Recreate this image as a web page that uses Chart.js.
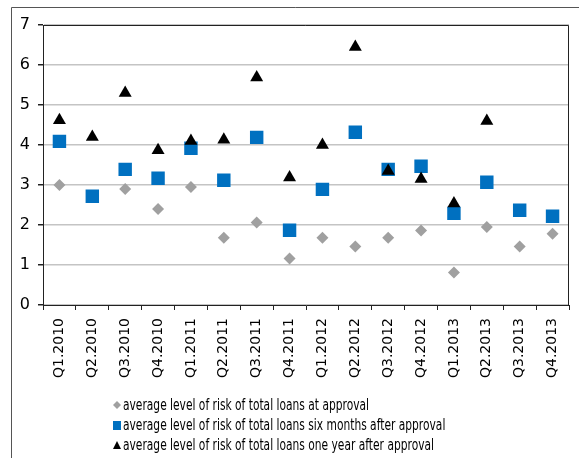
<!DOCTYPE html>
<html>
<head>
<meta charset="utf-8">
<script src="https://cdn.jsdelivr.net/npm/chart.js@4"></script>
<style>
  html, body { margin: 0; padding: 0; background: #fff; }
  #wrap { width: 579px; height: 458px; }
</style>
</head>
<body>
<div id="wrap"><canvas id="riskChart" width="579" height="458"></canvas></div>
<script>
// quarters on the x axis
const quarters = ["Q1.2010", "Q2.2010", "Q3.2010", "Q4.2010", "Q1.2011", "Q2.2011", "Q3.2011", "Q4.2011",
    "Q1.2012", "Q2.2012", "Q3.2012", "Q4.2012", "Q1.2013", "Q2.2013", "Q3.2013", "Q4.2013"];

// average level of risk
const atApproval = [3.0, null, 2.9, 2.4, 2.95, 1.68, 2.06, 1.16, 1.68, 1.46, 1.68, 1.86, 0.81, 1.95, 1.46, 1.78];
const sixMonths = [4.09, 2.72, 3.39, 3.17, 3.92, 3.12, 4.19, 1.87, 2.89, 4.32, 3.39, 3.47, 2.29, 3.07, 2.37, 2.22];
const oneYear = [4.62, 4.2, 5.3, 3.87, 4.1, 4.13, 5.69, 3.19, 4.0, 6.45, 3.35, 3.15, 2.54, 4.6, null, null];

const seriesNames = [
    "average level of risk of total loans at approval",
    "average level of risk of total loans six months after approval",
    "average level of risk of total loans one year after approval"
];

const yTicks = [0, 1, 2, 3, 4, 5, 6, 7];

// ===== frame, plot border and legend =====
const framePlugin = {
    id: "frame",
    afterDraw(chart) {
        const ctx = chart.ctx;
        const a = chart.chartArea;
        ctx.save();
        // outer frame
        ctx.strokeStyle = "#555";
        ctx.lineWidth = 1;
        ctx.beginPath();
        ctx.moveTo(11.5, 470);
        ctx.lineTo(11.5, 7.5);
        ctx.lineTo(600, 7.5);
        ctx.stroke();
        // plot border top + right
        ctx.strokeStyle = "#222";
        ctx.beginPath();
        ctx.moveTo(a.left, a.top + 0.5);
        ctx.lineTo(a.right - 0.5, a.top + 0.5);
        ctx.lineTo(a.right - 0.5, a.bottom);
        ctx.stroke();

        // legend
        const metas = chart.data.datasets;
        ctx.font = "15px 'DejaVu Sans'";
        const sx = 246 / ctx.measureText(seriesNames[0]).width;
        const rows = [405, 425, 445];
        metas.forEach((ds, i) => {
            const y = rows[ds.legendRow];
            const x = 117;
            ctx.fillStyle = ds.backgroundColor;
            ctx.beginPath();
            if (ds.pointStyle === "rectRot") {
                ctx.moveTo(x, y - 4); ctx.lineTo(x + 4, y); ctx.lineTo(x, y + 4); ctx.lineTo(x - 4, y);
            } else if (ds.pointStyle === "rect") {
                ctx.rect(x - 4, y - 4, 8, 9);
            } else {
                ctx.moveTo(x, y - 4); ctx.lineTo(x + 4, y + 4); ctx.lineTo(x - 4, y + 4);
            }
            ctx.closePath();
            ctx.fill();
            ctx.save();
            ctx.translate(123, y);
            ctx.scale(sx, 1);
            ctx.fillStyle = "#000";
            ctx.textBaseline = "middle";
            ctx.fillText(seriesNames[ds.legendRow], 0, 1);
            ctx.restore();
        });
        ctx.restore();
    }
};

new Chart(document.getElementById("riskChart"), {
    type: "line",
    data: {
        labels: quarters,
        datasets: [
            {
                label: seriesNames[2],
                data: oneYear,
                showLine: false,
                pointStyle: "triangle",
                pointRadius: 7.5,
                backgroundColor: "#000000",
                borderColor: "#000000",
                borderWidth: 0,
                order: 0,
                legendRow: 2
            },
            {
                label: seriesNames[1],
                data: sixMonths,
                showLine: false,
                pointStyle: "rect",
                pointRadius: 9.5,
                backgroundColor: "#0070C0",
                borderColor: "#0070C0",
                borderWidth: 0,
                order: 1,
                legendRow: 1
            },
            {
                label: seriesNames[0],
                data: atApproval,
                showLine: false,
                pointStyle: "rectRot",
                pointRadius: 6,
                backgroundColor: "#A0A0A0",
                borderColor: "#A0A0A0",
                borderWidth: 0,
                order: 2,
                legendRow: 0
            }
        ]
    },
    options: {
        responsive: false,
        animation: false,
        devicePixelRatio: 1,
        layout: {
            padding: { left: 0, top: 25, right: 10, bottom: 0 }
        },
        plugins: {
            legend: { display: false },
            tooltip: { enabled: false }
        },
        scales: {
            x: {
                type: "category",
                offset: true,
                afterFit(scale) { scale.height = 153; },
                grid: {
                    offset: true,
                    drawOnChartArea: false,
                    drawTicks: true,
                    tickLength: 5,
                    tickColor: "#222"
                },
                border: { color: "#222", width: 1 },
                ticks: {
                    minRotation: 90,
                    maxRotation: 90,
                    autoSkip: false,
                    padding: 8,
                    color: "#000",
                    font: { family: "'DejaVu Sans'", size: 14 }
                }
            },
            y: {
                min: 0,
                max: 7,
                afterFit(scale) { scale.width = 43; },
                afterBuildTicks(scale) { scale.ticks = yTicks.map(v => ({ value: v })); },
                grid: {
                    color: "#C4C4C4",
                    lineWidth: 1.5,
                    tickLength: 5,
                    tickColor: "#222"
                },
                border: { color: "#222", width: 1 },
                ticks: {
                    padding: 8,
                    color: "#000",
                    font: { family: "'DejaVu Sans'", size: 16 }
                }
            }
        }
    },
    plugins: [framePlugin]
});
</script>
</body>
</html>
